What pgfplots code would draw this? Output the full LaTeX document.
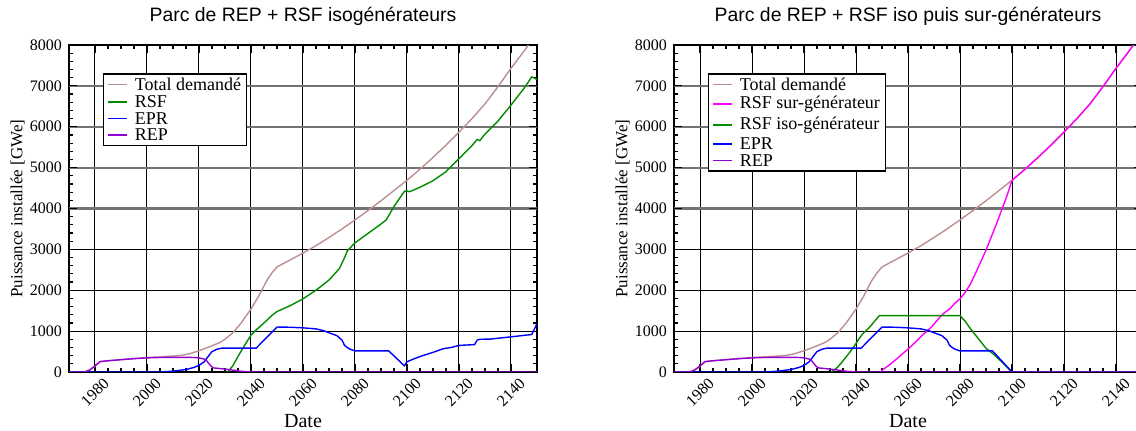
\documentclass[border=0pt]{standalone}
\usepackage{fontspec}
\setmainfont{Liberation Serif}
\newfontfamily\titlefont{Liberation Sans}
\usepackage{pgfplots}
\pgfplotsset{compat=1.18}
\definecolor{cbrown}{RGB}{188,143,143}
\definecolor{cgreen}{RGB}{0,139,0}
\definecolor{cblue}{RGB}{0,0,255}
\definecolor{cviolet}{RGB}{148,0,211}
\definecolor{cmag}{RGB}{255,0,255}
\definecolor{cgrid}{RGB}{115,115,115}
\pgfplotsset{
  myaxis/.style={
    scale only axis, width=234pt, height=163.5pt,
    xmin=1970, xmax=2150, ymin=0, ymax=8000,
    xtick={1980,2000,...,2140},
    ytick={0,1000,...,8000},
    extra y ticks={4000,5000,6000,7000},
    extra y tick labels={},
    extra y tick style={grid=major, major grid style={cgrid, line width=1.1pt}},
    minor x tick num=3, minor y tick num=4,
    grid=major, major grid style={black, line width=0.5pt},
    tick align=inside, major tick length=4pt, minor tick length=2pt,
    tick style={black, line width=0.6pt},
    axis line style={line width=1pt},
    scaled ticks=false,
    /pgf/number format/1000 sep={},
    /pgf/number format/assume math mode=true,
    ticklabel style={font=\fontsize{8}{9}\selectfont},
    xticklabel style={yshift=-10pt, rotate=45, anchor=center},
    title style={font=\titlefont\fontsize{9.7}{11}\selectfont, at={(0.5,1)}, anchor=base, yshift=6pt},
    xlabel={Date},
    xlabel style={font=\fontsize{10}{11}\selectfont, at={(0.5,0)}, anchor=base, yshift=-28pt},
    ylabel={Puissance installée [GWe]},
    ylabel style={font=\fontsize{8.5}{10}\selectfont, at={(-0.110,0.5)}, anchor=center, rotate=0},
    legend cell align=left,
    legend image code/.code={\draw[#1, line width=0.9pt] (0pt,0pt) -- (9.5pt,0pt);},
    legend style={at={(0.0726,0.914)}, anchor=north west, draw=black, line width=0.7pt,
      font=\fontsize{9}{10}\selectfont, inner xsep=1.5pt, inner ysep=1pt,
      nodes={inner sep=1.2pt, text depth=}, column sep=2.5pt, row sep=0pt},
    every axis plot/.append style={line width=0.7pt},
  }
}
\pgfplotstableread{
x y
1970 0
1975 0
1977 20
1979 90
1981 200
1982 255
1985 275
1990 305
1995 330
2000 355
2005 370
2010 390
2013 405
2016 440
2020 520
2025 640
2028 720
2030 800
2033 960
2036 1180
2040 1540
2043 1860
2046 2230
2048 2420
2050 2570
2055 2740
2060 2910
2065 3090
2070 3290
2075 3500
2080 3720
2085 3950
2090 4190
2095 4440
2100 4690
2105 4960
2110 5250
2115 5550
2120 5870
2125 6200
2130 6560
2135 6980
2140 7430
2145 7850
2150 8300
}\total
\pgfplotstableread{
x y
1970 0
1976 0
1978 50
1980 150
1982 255
1985 275
1990 300
1995 325
2000 345
2005 355
2010 358
2015 358
2018 355
2020 345
2022 315
2023 270
2024.5 150
2025.5 100
2028 85
2032 55
2036 20
2040 0
2150 0
}\rep
\pgfplotstableread{
x y
1970 0
2005 0
2010 20
2015 60
2018 110
2020 160
2022 250
2024 420
2025 500
2027 560
2029 585
2042 585
2050 1100
2055 1095
2060 1080
2065 1055
2068 1010
2070 960
2073 890
2075 780
2076 650
2077 600
2078 560
2080 515
2093 515
2099 150
2100 250
2103 330
2106 400
2110 480
2114 570
2117 600
2120 650
2126 670
2127 780
2128 800
2132 805
2140 860
2147 910
2148 920
2150 1180
}\eprL
\pgfplotstableread{
x y
2031 0
2033 150
2035 380
2038 700
2040 900
2042 1030
2045 1200
2048 1380
2050 1480
2055 1620
2060 1790
2065 2000
2070 2250
2074 2530
2076 2800
2077 2960
2080 3160
2085 3390
2090 3620
2092 3720
2095 4050
2099 4420
2100 4430
2101 4410
2105 4520
2110 4680
2115 4900
2120 5220
2125 5540
2127 5690
2128 5660
2130 5820
2135 6140
2140 6530
2145 6940
2148 7220
2150 7160
}\rsfL
\pgfplotstableread{
x y
1970 0
2005 0
2010 20
2015 60
2018 110
2020 160
2022 250
2024 420
2025 500
2027 560
2029 585
2042 585
2050 1100
2055 1095
2060 1080
2065 1055
2068 1010
2070 960
2073 890
2075 780
2076 650
2077 600
2078 560
2080 515
2092.5 515
2100 0
2150 0
}\eprR
\pgfplotstableread{
x y
2030.5 0
2033 120
2036 350
2039 600
2041 800
2042.5 930
2045 1080
2047 1230
2049 1380
2080 1380
2082 1240
2084 1060
2087 820
2090 580
2093 430
2096 250
2100 0
2150 0
}\rsfisoR
\pgfplotstableread{
x y
2049.5 0
2050 40
2053 180
2056 340
2060 560
2063 740
2066 930
2069 1100
2072 1320
2074 1450
2076 1540
2078 1680
2080 1790
2082 1950
2084 2150
2086 2420
2088 2700
2090 2980
2092 3300
2094 3620
2096 3960
2098 4300
2100 4690
2105 4960
2110 5250
2115 5550
2120 5870
2125 6200
2130 6560
2135 6980
2140 7430
2145 7850
2150 8300
}\rsfsurR
\begin{document}
\begin{tikzpicture}
\begin{axis}[myaxis, at={(34.5pt,29.5pt)}, anchor=south west,
  title={Parc de REP + RSF isogénérateurs}]
\addplot[cbrown] table {\total};
\addplot[cgreen] table {\rsfL};
\addplot[cblue] table {\eprL};
\addplot[cviolet] table {\rep};
\legend{Total demandé, RSF, EPR, REP}
\end{axis}
\begin{axis}[myaxis, at={(337pt,29.5pt)}, anchor=south west,
  title={Parc de REP + RSF iso puis sur-générateurs}]
\addplot[cbrown] table {\total};
\addplot[cmag] table {\rsfsurR};
\addplot[cgreen] table {\rsfisoR};
\addplot[cblue] table {\eprR};
\addplot[cviolet] table {\rep};
\legend{Total demandé, RSF sur-générateur, RSF iso-générateur, EPR, REP}
\end{axis}
\pgfresetboundingbox
\useasboundingbox (0,0) rectangle (568pt,215.5pt);
\end{tikzpicture}
\end{document}
